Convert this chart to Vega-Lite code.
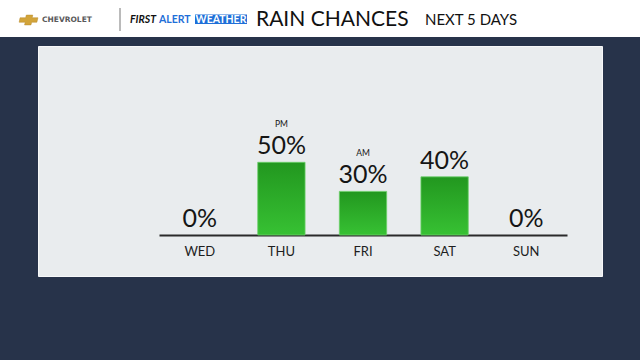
{
  "$schema": "https://vega.github.io/schema/vega-lite/v6.json",
  "autosize": "none",
  "width": 564,
  "height": 230,
  "padding": {"left": 38, "top": 46, "right": 38, "bottom": 84},
  "background": "#27334a",
  "config": {
    "view": {"fill": "#e9ecee", "stroke": "#f7f8f9", "strokeWidth": 1},
    "font": "Lato"
  },
  "data": {
    "values": [
      {"day": "WED", "pct": 0, "note": ""},
      {"day": "THU", "pct": 50, "note": "PM"},
      {"day": "FRI", "pct": 30, "note": "AM"},
      {"day": "SAT", "pct": 40, "note": ""},
      {"day": "SUN", "pct": 0, "note": ""}
    ]
  },
  "transform": [{"calculate": "datum.pct + '%'", "as": "label"}],
  "encoding": {
    "x": {
      "field": "day",
      "type": "nominal",
      "sort": ["WED", "THU", "FRI", "SAT", "SUN"],
      "scale": {"range": [121, 529], "paddingInner": 0.42, "paddingOuter": 0.21},
      "axis": {
        "title": null,
        "orient": "bottom",
        "offset": -41,
        "ticks": false,
        "domainColor": "#2a2a2a",
        "domainWidth": 2,
        "labelFontSize": 13,
        "labelColor": "#1e1e1e",
        "labelPadding": 10,
        "labelFont": "Lato",
        "labelAngle": 0
      }
    },
    "y": {
      "field": "pct",
      "type": "quantitative",
      "scale": {"domain": [0, 130], "range": [189, 0], "nice": false, "zero": true},
      "axis": null
    }
  },
  "layer": [
    {
      "data": {"values": [{}]},
      "mark": {"type": "rect", "fill": "#ffffff", "clip": false},
      "encoding": {
        "x": {"value": -38}, "x2": {"value": 602},
        "y": {"value": -46}, "y2": {"value": -9}
      }
    },
    {
      "data": {"values": [{}]},
      "mark": {"type": "rect", "fill": "#1f6fd8"},
      "encoding": {
        "x": {"value": 157}, "x2": {"value": 209},
        "y": {"value": -31.5}, "y2": {"value": -22}
      }
    },
    {
      "data": {"values": [{}]},
      "mark": {
        "type": "point",
        "shape": "M-1,-0.25 L-0.38,-0.25 L-0.3,-0.55 L0.42,-0.55 L0.36,-0.25 L1,-0.25 L0.88,0.25 L0.3,0.25 L0.22,0.55 L-0.5,0.55 L-0.42,0.25 L-1.1,0.25 Z",
        "filled": true,
        "fill": "#d2a43a",
        "stroke": "#b88a2a",
        "strokeWidth": 0.5,
        "size": 320,
        "opacity": 1
      },
      "encoding": {"x": {"value": -9}, "y": {"value": -26}}
    },
    {
      "data": {"values": [{}]},
      "mark": {"type": "text", "text": "CHEVROLET", "font": "DejaVu Sans", "fontWeight": "bold", "fontSize": 7.5, "fill": "#5a5a5a", "align": "left", "baseline": "middle"},
      "encoding": {"x": {"value": 4}, "y": {"value": -26}}
    },
    {
      "data": {"values": [{}]},
      "mark": {"type": "rule", "stroke": "#777777", "strokeWidth": 1},
      "encoding": {"x": {"value": 82}, "y": {"value": -38}, "y2": {"value": -15}}
    },
    {
      "data": {"values": [{}]},
      "mark": {"type": "text", "text": "FIRST", "font": "Lato", "fontWeight": "bold", "fontStyle": "italic", "fontSize": 10.5, "fill": "#111111", "align": "left", "baseline": "middle"},
      "encoding": {"x": {"value": 92}, "y": {"value": -26.5}}
    },
    {
      "data": {"values": [{}]},
      "mark": {"type": "text", "text": "ALERT", "font": "Lato", "fontWeight": "bold", "fontSize": 10.5, "fill": "#1f6fd8", "align": "left", "baseline": "middle"},
      "encoding": {"x": {"value": 121}, "y": {"value": -26.5}}
    },
    {
      "data": {"values": [{}]},
      "mark": {"type": "text", "text": "WEATHER", "font": "Lato", "fontWeight": "bold", "fontSize": 10.5, "fill": "#ffffff", "align": "center", "baseline": "middle"},
      "encoding": {"x": {"value": 183}, "y": {"value": -26.5}}
    },
    {
      "data": {"values": [{}]},
      "mark": {"type": "text", "text": "RAIN CHANCES", "font": "Lato", "fontSize": 21, "fill": "#111111", "align": "left", "baseline": "middle"},
      "encoding": {"x": {"value": 218}, "y": {"value": -26}}
    },
    {
      "data": {"values": [{}]},
      "mark": {"type": "text", "text": "NEXT 5 DAYS", "font": "Lato", "fontSize": 15, "fill": "#111111", "align": "left", "baseline": "middle"},
      "encoding": {"x": {"value": 387}, "y": {"value": -26}}
    },
    {
      "transform": [{"filter": "datum.pct > 0"}],
      "mark": {
        "type": "bar",
        "color": {
          "gradient": "linear", "x1": 0, "y1": 0, "x2": 0, "y2": 1,
          "stops": [{"offset": 0, "color": "#22971f"}, {"offset": 1, "color": "#37c133"}]
        },
        "stroke": "#6ccf69",
        "strokeWidth": 0.8
      }
    },
    {
      "mark": {"type": "text", "baseline": "bottom", "dy": -3, "fontSize": 25, "fill": "#151515", "font": "Lato"},
      "encoding": {"text": {"field": "label"}}
    },
    {
      "mark": {"type": "text", "baseline": "bottom", "dy": -33, "fontSize": 8.5, "fill": "#151515", "font": "Lato"},
      "encoding": {"text": {"field": "note"}}
    }
  ]
}
